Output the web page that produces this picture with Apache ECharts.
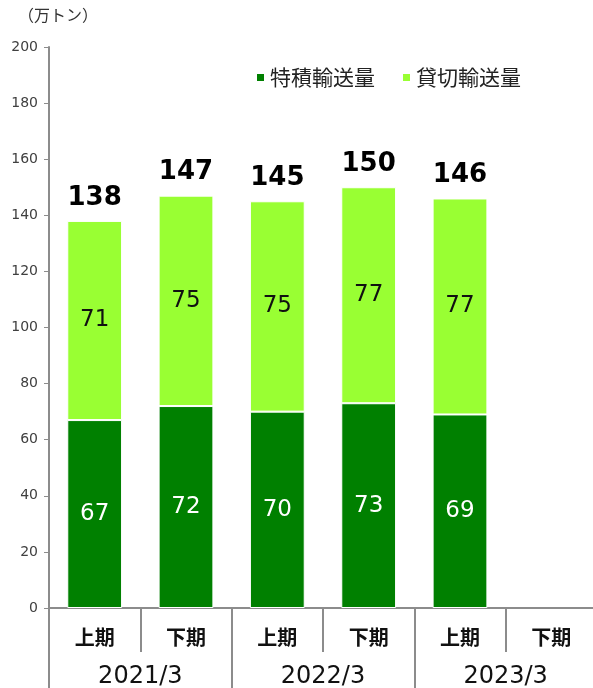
<!DOCTYPE html>
<html>
<head>
<meta charset="utf-8">
<style>
  html, body { margin: 0; padding: 0; background: #fff; }
  #chart { width: 593px; height: 688px; }
</style>
<script src="https://cdn.jsdelivr.net/npm/echarts@6/dist/echarts.min.js"></script>
</head>
<body>
<div id="chart"></div>
<script>
// Half-year periods and fiscal years
const periods = ['上期', '下期', '上期', '下期', '上期', '下期'];
const years = ['2021/3', '2022/3', '2023/3'];

// Transport volume (万トン)
const tokuseki = [67, 72, 70, 73, 69, null];
const kashikiri = [71, 75, 75, 77, 77, null];

const yTicks = { min: 0, max: 200, interval: 20 };

const totals = tokuseki.map((v, i) =>
  v == null ? null : v + kashikiri[i]
);

const NUM_FONT = 'DejaVu Sans';
const JP_FONT = '"Noto Sans CJK JP", sans-serif';
const AXIS_GRAY = '#8c8c8c';

const chart = echarts.init(document.getElementById('chart'));

chart.setOption({
  animation: false,
  graphic: [{
    type: 'text',
    left: 18,
    top: 7,
    style: { text: '（万トン）', font: '16px ' + JP_FONT, fill: '#333' }
  }],
  legend: {
    left: 250,
    top: 62,
    icon: 'rect',
    itemWidth: 9,
    itemHeight: 9,
    itemGap: 26,
    data: ['特積輸送量', '貸切輸送量'],
    textStyle: { fontSize: 21, fontFamily: JP_FONT, color: '#222' }
  },
  grid: { left: 49, top: 47, width: 548, height: 561, outerBoundsMode: 'none', containLabel: false },
  xAxis: [{
    type: 'category',
    data: periods,
    position: 'bottom',
    axisLine: { show: true, lineStyle: { color: AXIS_GRAY, width: 2 } },
    axisTick: { show: true, interval: 0, length: 44, lineStyle: { color: AXIS_GRAY, width: 2 } },
    axisLabel: {
      interval: 0, margin: 19,
      fontSize: 20, fontWeight: 'bold', fontFamily: JP_FONT, color: '#111'
    }
  }, {
    type: 'category',
    data: years,
    position: 'bottom',
    axisLine: { show: false },
    axisTick: { show: true, interval: 0, length: 80, lineStyle: { color: AXIS_GRAY, width: 2 } },
    axisLabel: {
      interval: 0, margin: 57,
      fontSize: 24, fontFamily: NUM_FONT, color: '#111'
    }
  }],
  yAxis: {
    type: 'value',
    min: yTicks.min,
    max: yTicks.max,
    interval: yTicks.interval,
    splitLine: { show: false },
    axisLine: { show: true, lineStyle: { color: AXIS_GRAY, width: 2 } },
    axisTick: { show: true, length: 5, lineStyle: { color: AXIS_GRAY, width: 1 } },
    axisLabel: { margin: 11, fontSize: 14, fontFamily: NUM_FONT, color: '#404040' }
  },
  series: [{
    name: '特積輸送量',
    type: 'bar',
    stack: 'vol',
    barWidth: '60%',
    barGap: '-100%',
    data: tokuseki,
    itemStyle: { color: '#008000', borderColor: '#fff', borderWidth: 1 },
    label: {
      show: true, position: 'inside',
      fontSize: 23, fontFamily: NUM_FONT, color: '#fff'
    }
  }, {
    name: '貸切輸送量',
    type: 'bar',
    stack: 'vol',
    barWidth: '60%',
    barGap: '-100%',
    data: kashikiri,
    itemStyle: { color: '#99ff33', borderColor: '#fff', borderWidth: 1 },
    label: {
      show: true, position: 'inside',
      fontSize: 23, fontFamily: NUM_FONT, color: '#111'
    }
  }, {
    name: '合計',
    type: 'bar',
    barWidth: '60%',
    barGap: '-100%',
    data: totals,
    z: 1,
    silent: true,
    itemStyle: { color: 'rgba(0,0,0,0)' },
    label: {
      show: true, position: 'top', distance: 10,
      fontSize: 26, fontWeight: 'bold', fontFamily: NUM_FONT, color: '#000'
    }
  }]
});
</script>
</body>
</html>
